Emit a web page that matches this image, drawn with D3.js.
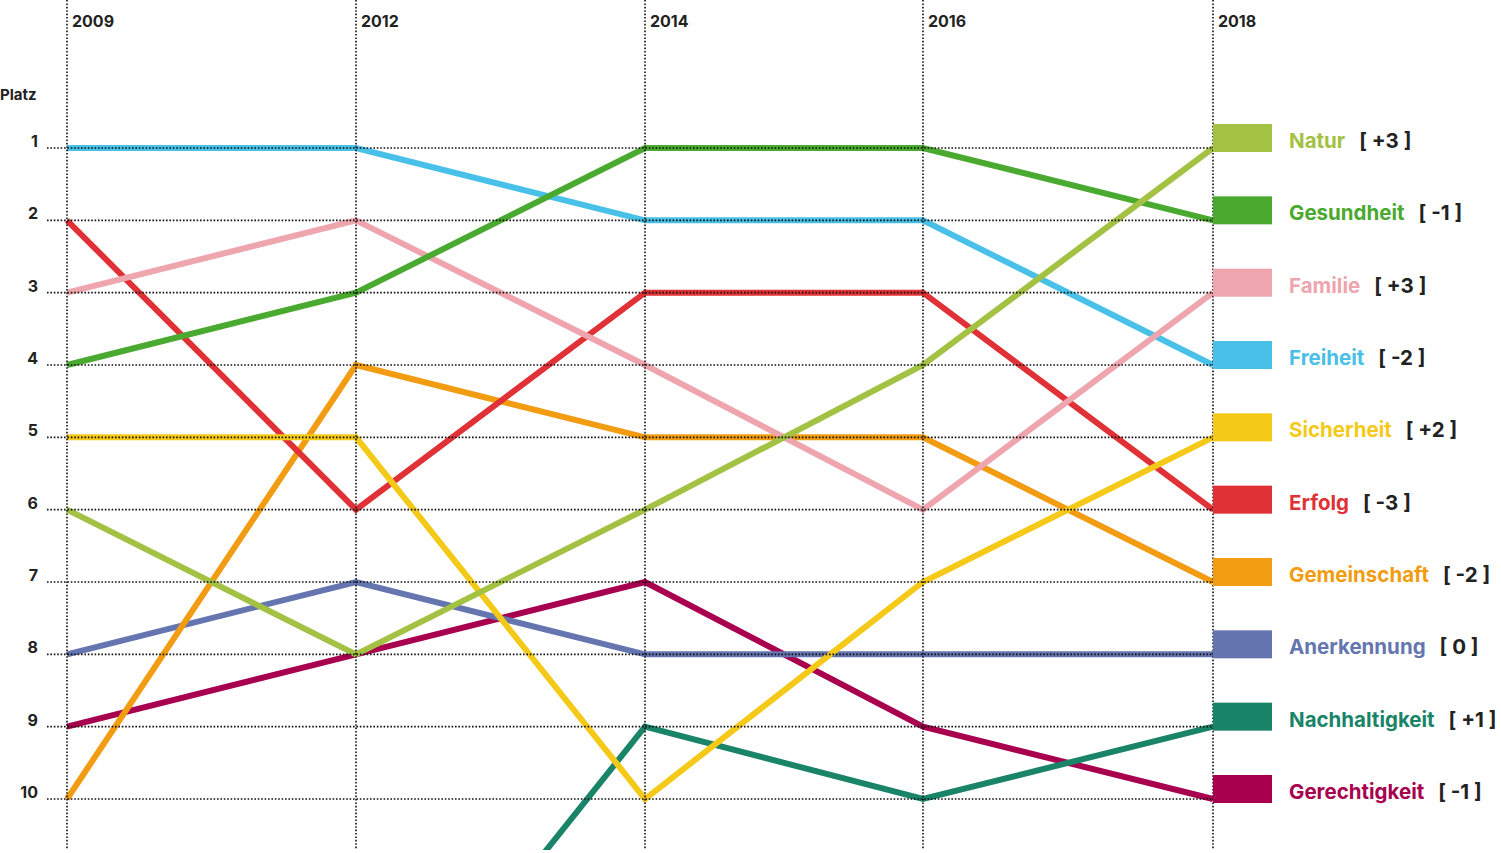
<!DOCTYPE html>
<html><head><meta charset="utf-8">
<script src="https://cdn.jsdelivr.net/npm/d3@7"></script>
<style>
body{margin:0;background:#fff;}
text{font-family:Inter,"Open Sans",sans-serif;font-weight:700;}
</style></head>
<body><svg id="c" width="1501" height="853"></svg>
<script>
const years = ["2009","2012","2014","2016","2018"];
const ranks = [1,2,3,4,5,6,7,8,9,10];
const names = ["Natur","Gesundheit","Familie","Freiheit","Sicherheit","Erfolg","Gemeinschaft","Anerkennung","Nachhaltigkeit","Gerechtigkeit"];
const colors = ["#a3c143","#4aa92f","#eea5ad","#48c0e8","#f5c917","#e03236","#f29c12","#6475b0","#1a8469","#a8004f"];
const changes = ["+3","-1","+3","-2","+2","-3","-2","0","+1","-1"];
const natur = [6,8,6,4,1];
const gesundheit = [4,3,1,1,2];
const familie = [3,2,4,6,3];
const freiheit = [1,1,2,2,4];
const sicherheit = [5,5,10,7,5];
const erfolg = [2,6,3,3,6];
const gemeinschaft = [10,4,5,5,7];
const anerkennung = [8,7,8,8,8];
const nachhaltigkeit = [null,14,9,10,9];
const gerechtigkeit = [9,8,7,9,10];
const seriesValues = [natur,gesundheit,familie,freiheit,sicherheit,erfolg,gemeinschaft,anerkennung,nachhaltigkeit,gerechtigkeit];

const svg = d3.select("#c");
const x = d3.scaleOrdinal().domain(years).range([67,356,645,923,1213]);
const y = d3.scaleLinear().domain([1,10]).range([148,799]);

svg.append("defs").append("clipPath").attr("id","clip")
  .append("rect").attr("x",0).attr("y",0).attr("width",1501).attr("height",850);

// lines
const line = d3.line().defined(d=>d.v!=null).x(d=>x(d.year)).y(d=>y(d.v));
const lg = svg.append("g").attr("clip-path","url(#clip)");
const order = d3.range(names.length).reverse();
order.forEach(i=>{
  const data = years.map((yr,j)=>({year:yr,v:seriesValues[i][j]}));
  lg.append("path").datum(data).attr("d",line)
    .attr("fill","none").attr("stroke",colors[i]).attr("stroke-width",6)
    .attr("stroke-linejoin","miter").attr("stroke-linecap","butt");
});

// grid
const grid = svg.append("g");
grid.selectAll("line.h").data(ranks).join("line")
  .attr("x1",47).attr("x2",x("2018")).attr("y1",d=>y(d)).attr("y2",d=>y(d))
  .attr("stroke","#111").attr("stroke-width",1.6).attr("stroke-dasharray","1.6,1.8");
grid.selectAll("line.v").data(years).join("line")
  .attr("x1",d=>x(d)).attr("x2",d=>x(d)).attr("y1",0).attr("y2",850)
  .attr("stroke","#111").attr("stroke-width",1.6).attr("stroke-dasharray","1.6,1.8");

// axes labels
svg.selectAll("text.yr").data(years).join("text")
  .attr("x",d=>x(d)+5).attr("y",27).attr("font-size",16).attr("fill","#222").text(d=>d);
svg.append("text").attr("x",0).attr("y",100).attr("font-size",15).attr("fill","#222").text("Platz");
svg.selectAll("text.rk").data(ranks).join("text")
  .attr("x",38).attr("y",d=>y(d)-1).attr("text-anchor","end").attr("font-size",16).attr("fill","#222").text(d=>d);

// legend (ordered by 2018 rank)
const leg = svg.append("g");
names.forEach((n,i)=>{
  const r = seriesValues[i][4];
  const yy = y(r);
  leg.append("rect").attr("x",x("2018")).attr("y",yy-24).attr("width",59).attr("height",28).attr("fill",colors[i]);
  const t = leg.append("text").attr("x",1289).attr("y",yy).attr("font-size",20.5).attr("fill",colors[i]).text(n);
  const w = t.node().getComputedTextLength();
  leg.append("text").attr("x",1289+w+14).attr("y",yy).attr("font-size",20.5).attr("fill","#222")
    .attr("xml:space","preserve").text("[ " + changes[i] + " ]");
});
</script></body></html>
